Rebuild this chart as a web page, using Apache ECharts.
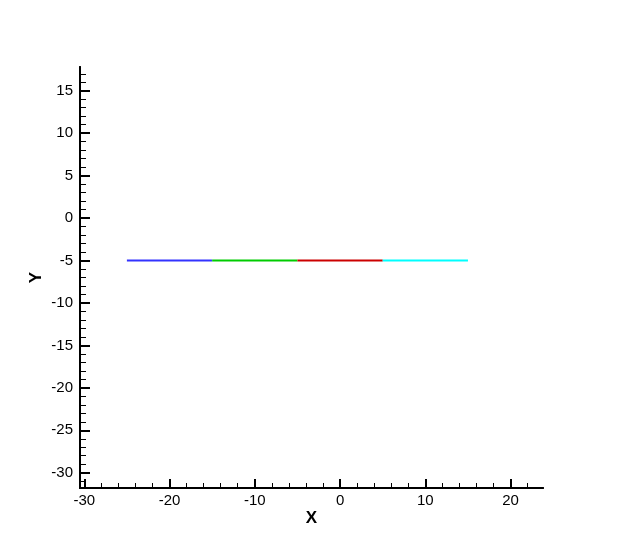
<!DOCTYPE html>
<html>
<head>
<meta charset="utf-8">
<script src="https://cdn.jsdelivr.net/npm/echarts@6/dist/echarts.min.js"></script>
<style>html,body{margin:0;padding:0;background:#fff}#c{width:618px;height:549px}</style>
</head>
<body>
<div id="c"></div>
<script>
// Data
const segStartX = [-25, -15, -5, 5];
const segEndX = [-15, -5, 5, 15];
const segY = [-5, -5, -5, -5];
const segNames = ['Zone 1', 'Zone 2', 'Zone 3', 'Zone 4'];
const xTickLabels = [-30, -20, -10, 0, 10, 20];
const yTickLabels = [-30, -25, -20, -15, -10, -5, 0, 5, 10, 15];
const xMinorTicks = [];
for (let v = -30; v <= 22; v += 2) xMinorTicks.push(v);
const yMinorTicks = [];
for (let v = -31; v <= 17; v += 1) yMinorTicks.push(v);

const xMin = -30.5, xMax = 23.8, yMin = -31.8, yMax = 17.8;
const segColors = ['#3333ff', '#00cc00', '#cc0000', '#00ffff'];
const font = 'Liberation Sans, Arial, sans-serif';

const chart = echarts.init(document.getElementById('c'));
const baseX = {
  type: 'value', min: xMin, max: xMax, position: 'bottom',
  splitLine: { show: false },
  axisLine: { onZero: false, lineStyle: { color: '#000', width: 2 } }
};
const baseY = {
  type: 'value', min: yMin, max: yMax, position: 'left',
  splitLine: { show: false },
  axisLine: { onZero: false, lineStyle: { color: '#000', width: 2 } }
};
chart.setOption({
  animation: false,
  backgroundColor: '#fff',
  grid: { left: 80, right: 75, top: 67, bottom: 61 },
  xAxis: [
    Object.assign({}, baseX, {
      name: 'X', nameLocation: 'middle', nameGap: 22, nameMoveOverlap: false,
      nameTextStyle: { fontFamily: font, fontSize: 17, fontWeight: 'bold', color: '#000' },
      axisTick: { show: true, inside: true, length: 9, customValues: xTickLabels, lineStyle: { color: '#000', width: 2 } },
      axisLabel: { show: true, margin: 5, customValues: xTickLabels, fontFamily: font, fontSize: 15, color: '#000' }
    }),
    Object.assign({}, baseX, {
      axisTick: { show: true, inside: true, length: 5, customValues: xMinorTicks, lineStyle: { color: '#000', width: 1 } },
      axisLabel: { show: false }
    })
  ],
  yAxis: [
    Object.assign({}, baseY, {
      name: 'Y', nameLocation: 'middle', nameGap: 35, nameMoveOverlap: false,
      nameTextStyle: { fontFamily: font, fontSize: 17, fontWeight: 'bold', color: '#000' },
      axisTick: { show: true, inside: true, length: 10, customValues: yTickLabels, lineStyle: { color: '#000', width: 2 } },
      axisLabel: { show: true, margin: 7, customValues: yTickLabels, fontFamily: font, fontSize: 15, color: '#000' }
    }),
    Object.assign({}, baseY, {
      axisTick: { show: true, inside: true, length: 6, customValues: yMinorTicks, lineStyle: { color: '#000', width: 1 } },
      axisLabel: { show: false }
    })
  ],
  series: segStartX.map((x0, i) => ({
    name: segNames[i],
    type: 'line',
    xAxisIndex: 0, yAxisIndex: 0,
    symbol: 'none',
    lineStyle: { color: segColors[i], width: 2 },
    data: [[x0, segY[i]], [segEndX[i], segY[i]]]
  }))
});
</script>
</body>
</html>
